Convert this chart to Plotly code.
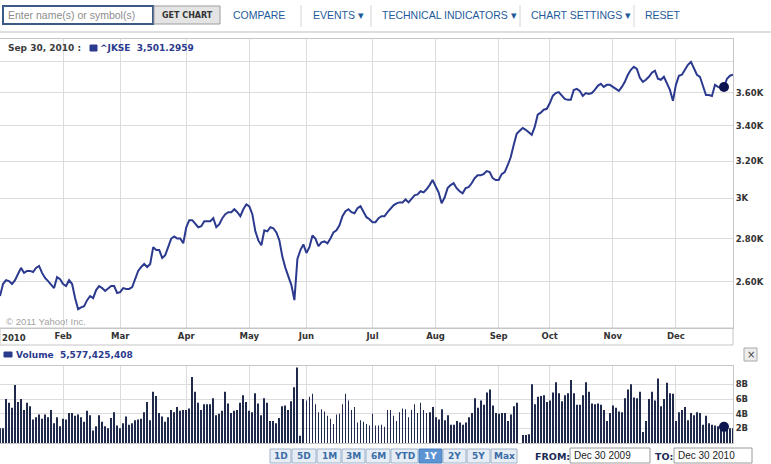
import math
import pandas as pd
import plotly.graph_objects as go

holidays = ["2009-12-31", "2010-01-01", "2010-02-26", "2010-03-16", "2010-04-02",
            "2010-05-13", "2010-05-28", "2010-07-09", "2010-08-17", "2010-09-08",
            "2010-09-09", "2010-09-10", "2010-09-13", "2010-09-14", "2010-11-17",
            "2010-12-07", "2010-12-24"]

close = [
    2536, 2589, 2606, 2602, 2589, 2606, 2634, 2662, 2639, 2648,
    2648, 2643, 2662, 2671, 2639, 2616, 2602, 2584, 2571, 2620,
    2611, 2589, 2580, 2606, 2589, 2527, 2479, 2487, 2492, 2518,
    2536, 2527, 2562, 2580, 2571, 2558, 2567, 2580, 2580, 2549,
    2553, 2571, 2567, 2567, 2575, 2611, 2648, 2666, 2680, 2666,
    2680, 2759, 2745, 2745, 2708, 2721, 2763, 2800, 2810, 2800,
    2800, 2777, 2855, 2890, 2890, 2875, 2855, 2860, 2885, 2885,
    2885, 2900, 2855, 2870, 2900, 2920, 2930, 2930, 2945, 2930,
    2910, 2945, 2970, 2960, 2920, 2835, 2791, 2768, 2840, 2835,
    2855, 2850, 2830, 2791, 2713, 2662, 2625, 2584, 2518, 2703,
    2745, 2772, 2731, 2759, 2815, 2800, 2763, 2782, 2786, 2777,
    2800, 2830, 2840, 2865, 2910, 2935, 2945, 2930, 2925, 2950,
    2960, 2930, 2905, 2895, 2880, 2880, 2900, 2910, 2910, 2930,
    2950, 2965, 2975, 2980, 2980, 2995, 2980, 3000, 3016, 3021,
    3038, 3032, 3048, 3070, 3097, 3064, 3032, 2975, 3005, 3054,
    3070, 3080, 3054, 3038, 3027, 3054, 3059, 3080, 3107, 3123,
    3123, 3129, 3145, 3140, 3107, 3097, 3097, 3129, 3140, 3177,
    3221, 3290, 3354, 3371, 3388, 3377, 3365, 3348, 3394, 3466,
    3478, 3496, 3501.3, 3535, 3580, 3598, 3604, 3580, 3562, 3556,
    3556, 3617, 3624, 3611, 3580, 3598, 3592, 3598, 3617, 3643,
    3656, 3636, 3649, 3649, 3636, 3624, 3611, 3636, 3668, 3713,
    3745, 3764, 3751, 3694, 3668, 3681, 3700, 3726, 3739, 3688,
    3681, 3700, 3656, 3617, 3550, 3649, 3707, 3713, 3745, 3777,
    3796, 3751, 3713, 3700, 3649, 3586, 3586, 3580, 3649, 3636,
    3630, 3636, 3688, 3707, 3713,
]

# volume in billions of shares
volume_b = [
    2.0, 2.0, 6.0, 5.5, 4.8, 7.9, 5.6, 6.0, 4.5, 5.5,
    5.0, 3.2, 3.5, 3.9, 3.3, 3.9, 3.5, 4.5, 2.7, 3.5,
    2.3, 3.3, 3.2, 4.1, 4.1, 3.7, 3.9, 3.5, 2.9, 4.4,
    3.8, 1.7, 2.3, 3.8, 2.9, 2.3, 2.0, 3.4, 4.2, 2.4,
    2.0, 2.7, 3.6, 2.5, 2.7, 3.1, 3.2, 3.3, 4.2, 5.6,
    3.1, 7.0, 6.4, 4.1, 3.6, 2.9, 3.5, 4.5, 4.2, 4.9,
    4.4, 4.5, 4.5, 4.7, 9.0, 7.0, 5.5, 4.5, 5.3, 5.3,
    5.3, 6.1, 3.8, 4.0, 4.4, 7.0, 5.4, 4.1, 4.4, 4.5,
    5.5, 6.5, 5.6, 4.4, 4.2, 6.8, 5.4, 3.8, 6.1, 5.5,
    3.0, 3.0, 2.7, 3.4, 5.0, 5.1, 4.5, 5.7, 7.6, 10.3,
    1.0, 6.0, 5.8, 6.3, 6.7, 5.3, 4.2, 4.6, 4.3, 3.7,
    3.3, 2.6, 3.9, 4.0, 5.3, 6.7, 5.8, 4.5, 4.9, 2.8,
    3.1, 2.9, 2.6, 2.4, 4.0, 2.4, 2.4, 2.5, 2.2, 4.5,
    4.5, 3.7, 3.0, 4.2, 4.7, 4.6, 3.5, 4.5, 5.3, 4.1,
    5.5, 4.5, 4.1, 4.2, 4.9, 3.5, 3.2, 4.6, 3.1, 3.8,
    2.5, 2.5, 3.0, 2.8, 2.5, 2.8, 3.5, 4.1, 6.1, 4.8,
    5.8, 5.2, 6.9, 7.3, 5.1, 4.1, 4.0, 4.1, 4.1, 3.0,
    3.9, 5.0, 5.5, 0.0, 1.1, 1.1, 1.2, 8.0, 5.3, 6.3,
    6.4, 6.5, 5.577, 5.8, 6.9, 8.3, 6.8, 5.7, 6.5, 6.8,
    8.6, 6.8, 5.2, 5.2, 6.5, 8.3, 7.0, 5.4, 5.3, 5.4,
    5.2, 4.5, 3.0, 4.1, 5.1, 4.8, 4.3, 4.2, 6.1, 7.3,
    8.0, 6.2, 6.1, 7.0, 1.5, 3.0, 6.0, 7.0, 5.8, 8.8,
    5.0, 6.0, 8.2, 6.8, 6.7, 3.0, 4.2, 4.5, 4.9, 3.1,
    4.1, 3.8, 4.2, 4.1, 2.5, 3.7, 2.7, 2.5, 2.4, 2.3,
    2.3, 2.2, 2.0, 2.0, 2.0,
]

price_ticks = [2600, 2800, 3000, 3200, 3400, 3600, 3800]
price_tick_text = ["2.60K", "2.80K", "3K", "3.20K", "3.40K", "3.60K", ""]
vol_ticks_b = [2, 4, 6, 8]
vol_tick_text = ["2B", "4B", "6B", "8B"]

sel_date = "Sep 30, 2010"
sel_close = 3501.2959
sel_volume = 5577425408
cursor_day = "2010-12-27"

range_buttons = ["1D", "5D", "1M", "3M", "6M", "YTD", "1Y", "2Y", "5Y", "Max"]
active_button = "1Y"
from_date = "Dec 30 2009"
to_date = "Dec 30 2010"

# ---- calendar ----
days = pd.bdate_range("2009-12-30", "2010-12-30")
days = days[~days.isin(pd.to_datetime(holidays))]
dates = [d.strftime("%Y-%m-%d") for d in days]
s = pd.Series(days)
firsts = s.groupby(s.dt.to_period("M")).first()
firsts = firsts[firsts >= pd.Timestamp("2010-02-01")]
month_vals = [d.strftime("%Y-%m-%d") for d in firsts]
month_text = ["<b>%s</b>" % d.strftime("%b") for d in firsts]

W, H = 771, 464
def px(x): return x / W
def py(y): return 1 - y / H

LINE = "#2b3a8e"
BAR = "#1f2a4d"
GRID = "#dcdcdc"
BORDER = "#c6c6c6"
NAVY = "#2b3a8e"

fig = go.Figure()
fig.add_trace(go.Scatter(x=dates, y=close, mode="lines", line=dict(color=LINE, width=2),
                         xaxis="x", yaxis="y", hoverinfo="skip"))
fig.add_trace(go.Bar(x=dates, y=[v * 1e9 for v in volume_b], marker=dict(color=BAR, line=dict(width=0)),
                     xaxis="x2", yaxis="y2", hoverinfo="skip"))
ci = dates.index(cursor_day)
fig.add_trace(go.Scatter(x=[cursor_day], y=[close[ci]], mode="markers",
                         marker=dict(size=10, color="#0c1550"), xaxis="x", yaxis="y"))
fig.add_trace(go.Scatter(x=[cursor_day], y=[volume_b[ci] * 1e9], mode="markers",
                         marker=dict(size=10, color="#0c1550"), xaxis="x2", yaxis="y2"))

axfont = dict(family="DejaVu Sans", size=8.5, color="#333333")
xcommon = dict(type="category", range=[0, len(dates) - 1], tickvals=month_vals, showgrid=True,
               gridcolor=GRID, gridwidth=1, showline=True, linecolor=BORDER, mirror=True,
               ticks="", zeroline=False, domain=[0, px(733)], tickfont=axfont)

fig.update_layout(
    width=W, height=H, margin=dict(l=0, r=0, t=0, b=0),
    paper_bgcolor="white", plot_bgcolor="white", showlegend=False, bargap=0.72,
    xaxis=dict(xcommon, anchor="y", ticktext=month_text),
    xaxis2=dict(xcommon, anchor="y2", showticklabels=False),
    yaxis=dict(type="log", domain=[py(328), py(39)],
               range=[math.log10(2400), math.log10(3949)],
               side="right", tickvals=price_ticks,
               ticktext=["<b>%s</b>" % t for t in price_tick_text],
               showgrid=True, gridcolor=GRID, showline=True, linecolor=BORDER, mirror=True,
               ticks="", tickfont=axfont, anchor="x"),
    yaxis2=dict(domain=[py(443), py(366)], range=[0, 10.5e9], side="right",
                tickvals=[v * 1e9 for v in vol_ticks_b],
                ticktext=["<b>%s</b>" % t for t in vol_tick_text],
                showgrid=True, gridcolor=GRID, showline=True, linecolor=BORDER, mirror=True,
                ticks="", tickfont=axfont, anchor="x2", zeroline=False),
)


def box(x0, y0, x1, y1, fill="white", line=BORDER, lw=1):
    fig.add_shape(type="rect", xref="paper", yref="paper", x0=px(x0), x1=px(x1),
                  y0=py(y1), y1=py(y0), fillcolor=fill, line=dict(color=line, width=lw))


def hline(x0, x1, y, color=BORDER, lw=1):
    fig.add_shape(type="line", xref="paper", yref="paper", x0=px(x0), x1=px(x1),
                  y0=py(y), y1=py(y), line=dict(color=color, width=lw))


def vline(x, y0, y1, color=BORDER, lw=1):
    fig.add_shape(type="line", xref="paper", yref="paper", x0=px(x), x1=px(x),
                  y0=py(y0), y1=py(y1), line=dict(color=color, width=lw))


def label(x, y, text, size=10, color="#333333", family="DejaVu Sans", anchor="left", bold=False):
    fig.add_annotation(x=px(x), y=py(y), xref="paper", yref="paper",
                       text="<b>%s</b>" % text if bold else text, showarrow=False,
                       xanchor=anchor, yanchor="middle",
                       font=dict(size=size, color=color, family=family))


# toolbar
box(3, 6, 153, 24, fill="white", line="#3b5a88", lw=2)
label(6, 15, "Enter name(s) or symbol(s)", size=10.5, color="#8c8c8c", family="Liberation Sans")
box(154, 6, 220, 24, fill="#e4e4e4", line="#9c9c9c")
label(187, 15, "GET CHART", size=8, color="#333333", family="DejaVu Sans", anchor="center", bold=True)
menu = [(231, "COMPARE"), (311, "EVENTS ▾"), (380, "TECHNICAL INDICATORS ▾"),
        (529, "CHART SETTINGS ▾"), (643, "RESET")]
for x, t in menu:
    label(x, 15, t, size=10.5, color="#1e5a99", family="Liberation Sans")
for x in [301, 371, 520, 634]:
    vline(x, 5, 27, color="#d6d6d6")
hline(0, W, 32, color="#dedede", lw=2)

# header inside the price panel
label(6, 48, sel_date + " :", size=9, color="#3c3c3c", bold=True)
box(90, 45, 97, 51, fill=NAVY, line=NAVY)
label(98, 48, "^JKSE  {:,.4f}".format(sel_close), size=9, color=NAVY, bold=True)
label(4, 321, "© 2011 Yahoo! Inc.", size=9.5, color="#a3a3a3", family="Liberation Sans")

# x label band and volume header
box(0, 328, 733, 345, fill="rgba(0,0,0,0)", line=BORDER)
label(0, 338, "2010", size=8.5, color="#333333", bold=True)
box(4, 352, 12, 357, fill=NAVY, line=NAVY)
label(14, 355, "Volume  {:,}".format(sel_volume), size=9, color=NAVY, bold=True)
box(744, 348, 757, 361, fill="#ededed", line="#a8a8a8")
label(750.5, 354.5, "×", size=10, color="#444444", family="DejaVu Sans", anchor="center")

# range buttons
edges = [270, 292, 317, 342, 366, 391, 419, 443, 467, 491, 518]
for i, t in enumerate(range_buttons):
    on = t == active_button
    box(edges[i], 449, edges[i + 1] - 1, 463, fill="#5b93d3" if on else "#e7edf4",
        line="#9fb3ca" if not on else "#4a7fbd")
    label((edges[i] + edges[i + 1] - 1) / 2, 456, t, size=9, color="white" if on else "#3a6ca6",
          anchor="center", bold=True)

label(533, 456, "FROM:", size=9.5, color="#1c2b55", bold=True)
box(570, 448, 650, 463, fill="white", line="#9a9a9a")
label(572, 455.5, from_date, size=10, color="#222222", family="Liberation Sans")
label(653, 456, "TO:", size=9.5, color="#1c2b55", bold=True)
box(674, 448, 752, 463, fill="white", line="#9a9a9a")
label(676, 455.5, to_date, size=10, color="#222222", family="Liberation Sans")

# page has a default 8px body margin; drop it so the 771x464 figure fills the window
fig.write_html("out.html", config={"displayModeBar": False},
               post_script="document.body.style.margin='0px';document.body.style.overflow='hidden';")
